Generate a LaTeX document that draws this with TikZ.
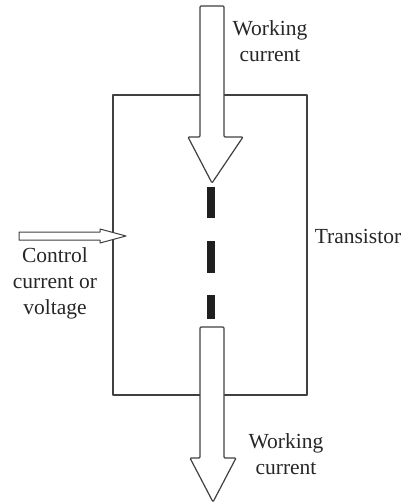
\documentclass[tikz,border=0pt]{standalone}
\usepackage{fontspec}
\setmainfont{Liberation Serif}
\begin{document}
\begin{tikzpicture}[x=1pt,y=-1pt,
  outline/.style={draw=black!75,line width=1.2pt,line join=round},
  blockarrow/.style={outline,fill=white,rounded corners=1pt},
  bar/.style={fill=black!88,draw=none},
  lbl/.style={font=\fontsize{21.5}{26}\selectfont,align=center,inner sep=0pt,text=black!85}]
\useasboundingbox (0,0) rectangle (405,503);
% transistor box
\draw[outline] (113,95) rectangle (307,395);
% top working current arrow
\draw[blockarrow] (200,6) -- (224,6) -- (224,137) -- (243,137) -- (212,183) -- (188,137) -- (200,137) -- cycle;
% bottom working current arrow
\draw[blockarrow] (200,327) -- (224,327) -- (224,458) -- (236,458) -- (213,502) -- (190,458) -- (200,458) -- cycle;
% dashes
\fill[bar] (207,187) rectangle (215,218);
\fill[bar] (207,241) rectangle (215,273);
\fill[bar] (207,295) rectangle (215,319);
% control arrow
\draw[outline,line width=1pt,fill=white] (19,232) -- (100,232) -- (100,229) -- (126,236) -- (100,243) -- (100,240) -- (19,240) -- cycle;
% labels
\node[lbl] (wtop) at (270,41) {Working\\current};
\node[lbl] (wbot) at (286,454) {Working\\current};
\node[lbl] (ctrl) at (55,283) {Control\\current or\\voltage};
\node[lbl] (tr) at (358,236) {Transistor};
\end{tikzpicture}
\end{document}
